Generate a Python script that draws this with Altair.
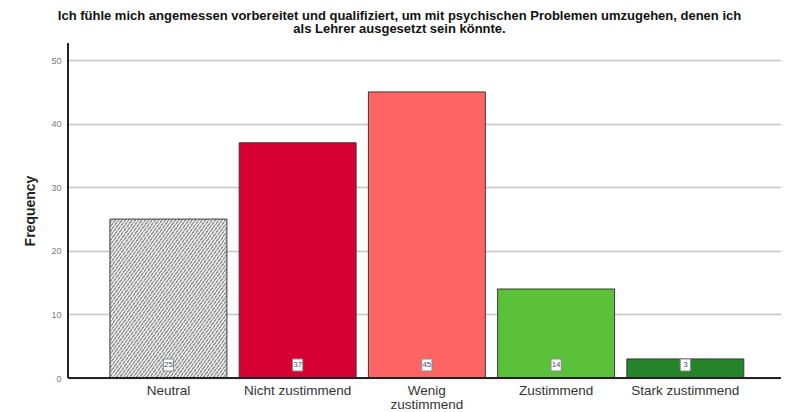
import altair as alt
import pandas as pd

categories = ["Neutral", "Nicht zustimmend", "Wenig zustimmend", "Zustimmend", "Stark zustimmend"]
counts = [25, 37, 45, 14, 3]
colors = ["#bdbdbd", "#d60032", "#ff6464", "#5cc13a", "#25832a"]

df = pd.DataFrame({"cat": categories, "n": counts, "col": colors})

FONT = "Liberation Sans"

# hatch look for the "Neutral" bar (diagonal stripes via a hard-stop gradient)
n_stripes = 70
stops = []
for i in range(n_stripes):
    a = i / n_stripes
    b = (i + 0.6) / n_stripes
    c = (i + 1) / n_stripes
    stops += [alt.GradientStop(offset=a, color="#e4e4e4"),
              alt.GradientStop(offset=b, color="#e4e4e4"),
              alt.GradientStop(offset=b, color="#979797"),
              alt.GradientStop(offset=c, color="#979797")]
hatch = alt.Gradient(gradient="linear", stops=stops, x1=0, y1=0, x2=1, y2=1)

xscale = alt.Scale(paddingInner=0.095, paddingOuter=0.306, align=0.53)

x = alt.X("cat:N", sort=categories, title=None, scale=xscale,
          axis=alt.Axis(labelExpr="datum.label == 'Wenig zustimmend' ? ['Wenig', 'zustimmend'] : datum.label",
                        labelFontSize=13.5, labelColor="#333333", labelFont=FONT, labelPadding=5,
                        ticks=False, domain=False, labelAngle=0, labelLineHeight=14))
y = alt.Y("n:Q", title="Frequency",
          scale=alt.Scale(domain=[0, 52.7], nice=False, zero=True),
          axis=alt.Axis(values=[0, 10, 20, 30, 40, 50], labelFontSize=9, labelColor="#7a7a7a",
                        labelFont=FONT, ticks=False, domain=False, labelPadding=7,
                        grid=True, gridColor="#c4c4c4", gridWidth=1.5,
                        titleFont=FONT, titleFontSize=14, titleFontWeight="bold",
                        titleColor="#222222", titlePadding=13))

bars = alt.Chart(df).mark_bar(stroke="#3a3a3a", strokeWidth=1).encode(
    x=x, y=y, fill=alt.Fill("col:N", scale=None)
).transform_filter(alt.datum.cat != "Neutral")

neutral = alt.Chart(df).mark_bar(stroke="#3a3a3a", strokeWidth=1, color=hatch).encode(
    x=alt.X("cat:N", sort=categories), y="n:Q"
).transform_filter(alt.datum.cat == "Neutral")

yaxis_line = alt.Chart(df).mark_rule(color="#222222", strokeWidth=2).encode(
    x=alt.value(0), y=alt.value(0), y2=alt.value(335)
)
xaxis_line = alt.Chart(df).mark_rule(color="#222222", strokeWidth=2).encode(
    x=alt.value(0), x2=alt.value(713), y=alt.value(335)
)

boxes = alt.Chart(df).mark_point(shape="M-0.85,-1H0.85V1H-0.85Z", filled=True, fill="white",
                                 stroke="#8a8a8a", strokeWidth=1, size=144, opacity=1,
                                 yOffset=-13).encode(
    x=alt.X("cat:N", sort=categories),
    y=alt.datum(0),
)

labels = alt.Chart(df).mark_text(fontSize=8, font=FONT, color="#4a5070", yOffset=-13,
                                 baseline="middle").encode(
    x=alt.X("cat:N", sort=categories),
    y=alt.datum(0),
    text="n:Q",
)

chart = alt.layer(bars, neutral, yaxis_line, xaxis_line, boxes, labels).properties(
    width=713, height=335,
    padding={"left": 60, "top": 35, "right": 0, "bottom": 34},
    autosize="none",
    title=alt.TitleParams(
        text=["Ich fühle mich angemessen vorbereitet und qualifiziert, um mit psychischen Problemen umzugehen, denen ich",
              "als Lehrer ausgesetzt sein könnte."],
        font=FONT, fontSize=13, fontWeight="bold", color="#111111",
        anchor="middle", dx=-25, offset=6, lineHeight=13.5,
    ),
).configure_view(stroke=None)

chart.save("out.html", embed_options={"renderer": "svg", "actions": False})
